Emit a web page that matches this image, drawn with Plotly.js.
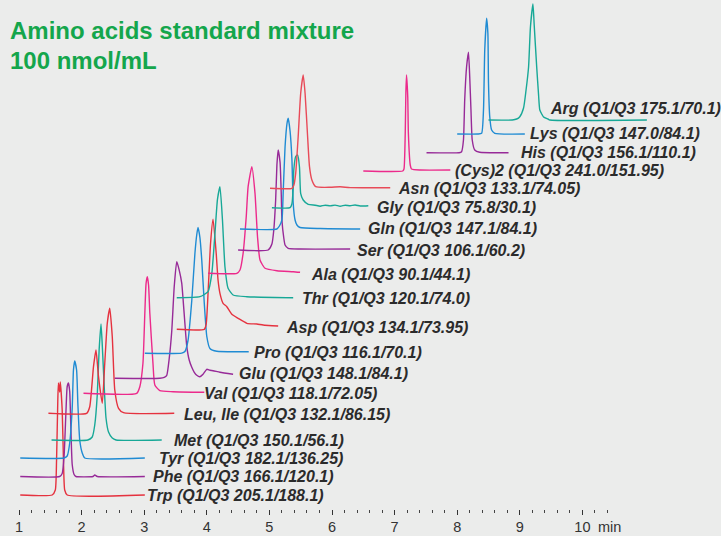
<!DOCTYPE html>
<html>
<head>
<meta charset="utf-8">
<script src="https://cdn.plot.ly/plotly-3.0.1.min.js"></script>
<style>
  html, body { margin: 0; padding: 0; background: #ebeceb; }
  #chart { width: 721px; height: 536px; }
</style>
</head>
<body>
<div id="chart"></div>
<script>
// ---------------- DATA ----------------
const chartTitle = ['Amino acids standard mixture', '100 nmol/mL'];
const compounds = ['Trp', 'Phe', 'Tyr', 'Met', 'Leu, Ile', 'Val', 'Glu', 'Pro', 'Asp', 'Thr',
                   'Ala', 'Ser', 'Gln', 'Gly', 'Asn', '(Cys)2', 'His', 'Lys', 'Arg'];
const transitions = ['205.1/188.1', '166.1/120.1', '182.1/136.25', '150.1/56.1', '132.1/86.15',
                     '118.1/72.05', '148.1/84.1', '116.1/70.1', '134.1/73.95', '120.1/74.0',
                     '90.1/44.1', '106.1/60.2', '147.1/84.1', '75.8/30.1', '133.1/74.05',
                     '241.0/151.95', '156.1/110.1', '147.0/84.1', '175.1/70.1'];
// stacking offset of each chromatogram (arbitrary intensity units)
const baselineOffsets = [14, 32.5, 51, 69, 95.7, 115.7, 130.7, 156.5, 179.7, 211.3,
                         235.7, 259, 280, 301.3, 320.7, 338, 356.3, 375, 389];
// retention time (min) of each sampled point, per compound
const retentionTimes = [
  [1.02, 1.53, 1.58, 1.60, 1.62, 1.63, 1.65, 1.66, 1.69, 1.71, 1.73, 1.77, 3.01],
  [1.02, 1.65, 1.69, 1.72, 1.75, 1.77, 1.79, 1.81, 1.83, 1.85, 1.88, 1.91, 2.18, 2.21, 2.25, 3.01],
  [1.02, 1.72, 1.77, 1.81, 1.85, 1.87, 1.89, 1.92, 1.94, 1.97, 2.01, 2.05, 3.01],
  [1.52, 2.10, 2.17, 2.21, 2.25, 2.28, 2.31, 2.33, 2.36, 2.39, 2.43, 2.49, 2.55, 3.28],
  [1.47, 2.08, 2.13, 2.19, 2.23, 2.27, 2.33, 2.37, 2.41, 2.45, 2.49, 2.53, 2.59, 2.67, 3.48],
  [2.03, 2.88, 2.93, 2.98, 3.01, 3.03, 3.05, 3.07, 3.09, 3.14, 3.17, 3.25, 3.46, 3.96],
  [2.53, 3.25, 3.32, 3.36, 3.40, 3.44, 3.48, 3.52, 3.56, 3.60, 3.62, 3.65, 3.68, 3.72, 3.76, 3.80, 3.84, 3.89, 3.94, 4.00, 4.05, 4.10, 4.21, 4.42],
  [3.01, 3.60, 3.65, 3.70, 3.76, 3.81, 3.84, 3.86, 3.89, 3.92, 3.96, 4.00, 4.05, 4.16, 4.67],
  [3.52, 3.96, 3.99, 4.02, 4.06, 4.10, 4.15, 4.18, 4.21, 4.26, 4.32, 4.40, 4.50, 4.64, 4.80, 4.90, 5.14],
  [3.52, 3.89, 4.02, 4.08, 4.13, 4.17, 4.21, 4.25, 4.29, 4.34, 4.42, 4.64, 5.38],
  [4.02, 4.48, 4.53, 4.58, 4.63, 4.66, 4.72, 4.77, 4.81, 4.85, 4.93, 5.12, 5.38, 5.49],
  [4.50, 4.98, 5.04, 5.07, 5.10, 5.12, 5.14, 5.17, 5.19, 5.20, 5.23, 5.25, 5.30, 5.49, 6.29],
  [4.53, 5.12, 5.16, 5.20, 5.22, 5.25, 5.28, 5.30, 5.33, 5.36, 5.38, 5.41, 5.44, 5.49, 5.81, 6.45],
  [5.04, 5.33, 5.36, 5.38, 5.39, 5.42, 5.45, 5.48, 5.50, 5.54, 5.62, 5.73, 5.81, 5.89, 5.97, 6.05, 6.13, 6.21, 6.29, 6.37, 6.45, 6.58],
  [5.01, 5.36, 5.39, 5.42, 5.46, 5.50, 5.54, 5.57, 5.61, 5.64, 5.68, 5.74, 5.97, 6.13, 6.29, 6.93],
  [6.50, 7.13, 7.15, 7.17, 7.18, 7.19, 7.21, 7.22, 7.25, 7.27, 7.41, 7.89],
  [7.51, 8.03, 8.07, 8.10, 8.12, 8.15, 8.18, 8.20, 8.22, 8.24, 8.28, 8.36, 8.82],
  [8.00, 8.33, 8.39, 8.42, 8.44, 8.47, 8.49, 8.50, 8.52, 8.55, 8.60, 9.08],
  [8.50, 8.88, 8.95, 9.00, 9.06, 9.10, 9.14, 9.17, 9.21, 9.23, 9.27, 9.30, 9.32, 9.38, 9.45, 9.48, 11.03]
];
// signal above each chromatogram's own baseline (arbitrary units)
const signals = [
  [0, 0, 5, 35, 95, 112, 103, 113, 85, 35, 5, 0, 0],
  [0, 0, 3, 20, 65, 90, 93.5, 85, 45, 12, 2, 0, 0, 1.5, 0, 0],
  [0, 0, 2, 15, 50, 88, 97, 88, 55, 18, 5, 0, 0],
  [0, 0, 3, 15, 45, 90, 116, 95, 55, 22, 8, 2, 0, 0],
  [0, 0, 6.6, 46.6, 63.3, 36.6, 10, 50, 90, 105, 76.6, 23.3, 5, 0.6, 0],
  [0, 0, 6.6, 30, 80, 110, 116.6, 108, 80, 30, 8.3, 2.6, 1.6, 1],
  [0, 0, 1, 3, 20, 47, 92, 116.6, 108, 95, 80, 55, 32, 18, 11, 6, 3, 1.6, 4, 9, 8, 7.6, 6, 4],
  [-0.8, -0.6, 1, 12, 52, 99, 118, 125, 115, 92, 49, 16, 4, 1.2, 0.8],
  [0, 0, 5, 36, 86, 110, 76, 49, 36, 26, 22.6, 15, 11, 6, 5.3, 4.3, 3.3],
  [0, 1, 6, 24, 64, 98, 111, 78, 31, 9.4, 2.7, 1, 0],
  [0, 0, 3.3, 20, 56.6, 86.6, 106.6, 80, 36.6, 13.3, 5, 2.6, 1.6, 1],
  [0, 0, 6, 20, 50, 85, 100, 88, 55, 30, 12, 5, 1.7, 1, 1],
  [0, 0, 3, 9, 36, 82, 105, 110.7, 98, 69, 26, 9, 4, 1.5, 0.5, 0],
  [0, 0, 4, 20, 38, 51, 52.7, 41, 14, 7.7, 3.4, 2.5, 1.5, 2.5, 1.8, 2.6, 1.5, 2.5, 2, 2.7, 1.7, 2],
  [0, 0, 3, 15, 52, 95, 113.3, 95, 52, 22, 8, 1.6, 1, 1.5, 0.7, 0.5],
  [0, 0, 2, 38, 78, 96, 74, 38, 6, 2, 1, 1],
  [0, 0, 1, 12.7, 52.7, 86, 100.4, 76, 42.7, 12.7, 2.7, 0.4, 0],
  [0, 0, 0.7, 24, 84, 115.7, 100.7, 50.7, 17.3, 4, 0.7, 0],
  [0, 0, 1, 3.3, 12, 30, 53, 93, 116, 95, 53, 25, 10, 3, 1, 0, 0]
];
const tickValues = [1, 2, 3, 4, 5, 6, 7, 8, 9, 10];
const tickText = ['1', '2', '3', '4', '5', '6', '7', '8', '9', '10'];
const axisUnit = 'min';

// ---------------- STYLE / LAYOUT ----------------
const RED = '#e5323f', PURPLE = '#972a98', BLUE = '#1f8bd3', TEAL = '#17a897', PINK = '#ec2a8b';
const lineColors = [RED, PURPLE, BLUE, TEAL, RED, PINK, PURPLE, BLUE, RED, TEAL,
                    PINK, PURPLE, BLUE, TEAL, '#e84a58', PINK, PURPLE, BLUE, TEAL];
// label anchor: start time (min) and vertical centre (intensity units)
const labelX = [3.017, 3.109, 3.204, 3.444, 3.604, 3.923, 4.482, 4.714, 5.228, 5.494,
                5.628, 6.372, 6.548, 6.692, 7.030, 7.928, 8.982, 9.131, 9.446];
const labelY = [14, 32.7, 51, 68.7, 94.3, 115.3, 135.3, 156.2, 182, 210.3,
                234.3, 258.5, 280.3, 302, 320.5, 338.5, 356.8, 375.8, 400.2];

const FONT = 'Liberation Sans, Arial, Helvetica, sans-serif';

const traces = compounds.map((name, i) => ({
  type: 'scatter',
  mode: 'lines',
  name: name,
  x: retentionTimes[i],
  y: signals[i].map(v => v + baselineOffsets[i]),
  line: { color: lineColors[i], width: 1.4, shape: 'spline', smoothing: 0.5 },
  hoverinfo: 'skip'
}));

const annotations = compounds.map((name, i) => ({
  xref: 'x', yref: 'y',
  x: labelX[i], y: labelY[i],
  xanchor: 'left', yanchor: 'middle',
  showarrow: false,
  text: name + ' (Q1/Q3 ' + transitions[i] + ')',
  font: { family: FONT, size: 16, color: '#2b2b2b', weight: 'bold', style: 'italic' }
}));
annotations.push({
  xref: 'x', yref: 'paper',
  x: 10.21, y: -0.035,
  xanchor: 'left', yanchor: 'middle',
  showarrow: false,
  text: axisUnit,
  font: { family: FONT, size: 14.5, color: '#333333' }
});
// chart title (two lines, green, top-left)
[0.9391, 0.8805].forEach((yy, k) => annotations.push({
  xref: 'paper', yref: 'paper',
  x: 0.0111, y: yy,
  xanchor: 'left', yanchor: 'middle',
  showarrow: false,
  text: chartTitle[k],
  font: { family: FONT, size: 24, color: '#14a64c', weight: 'bold' }
}));

const minorVals = [];
for (let k = 6; k <= 52; k++) { if (k % 5 !== 0) minorVals.push(k / 5); }

const layout = {
  width: 721, height: 536,
  margin: { l: 0, r: 0, t: 0, b: 27, pad: 0 },
  paper_bgcolor: '#ebeceb',
  plot_bgcolor: '#ebeceb',
  showlegend: false,
  hovermode: false,
  xaxis: {
    range: [0.6965, 12.214],
    tickmode: 'array', tickvals: tickValues, ticktext: tickText,
    ticks: 'outside', ticklen: 5, tickwidth: 1, tickcolor: '#333333',
    showgrid: false, zeroline: false, showline: false,
    tickfont: { family: FONT, size: 14.5, color: '#333333' },
    minor: { tickmode: 'array', tickvals: minorVals, ticks: 'outside', ticklen: 3, tickwidth: 1, tickcolor: '#444444', showgrid: false }
  },
  yaxis: { range: [0, 509], visible: false, showgrid: false, zeroline: false },
  annotations: annotations
};

Plotly.newPlot('chart', traces, layout, { staticPlot: true, displayModeBar: false });
</script>
</body>
</html>
